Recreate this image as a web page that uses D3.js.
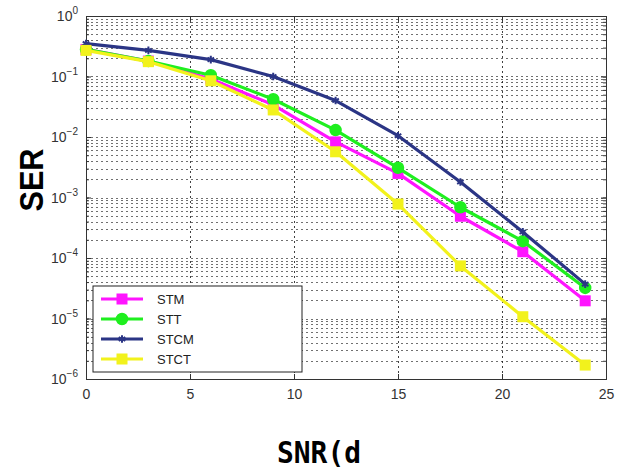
<!DOCTYPE html>
<html>
<head>
<meta charset="utf-8">
<script src="https://cdn.jsdelivr.net/npm/d3@7"></script>
<style>
  body { margin: 0; background: #fff; }
  svg { display: block; font-family: "Liberation Sans", Arial, sans-serif; }
</style>
</head>
<body>
<svg id="chart"></svg>
<script>
// SNR values (dB)
const snr = [0, 3, 6, 9, 12, 15, 18, 21, 24];

// SER per scheme
const stm  = [0.28, 0.18, 0.091, 0.034, 0.0083, 0.0025, 4.9e-4, 1.27e-4, 1.96e-5];
const stt  = [0.28, 0.18, 0.105, 0.042, 0.013, 0.0031, 6.9e-4, 1.9e-4, 3.2e-5];
const stcm = [0.35, 0.27, 0.19, 0.10, 0.040, 0.0105, 0.0018, 2.7e-4, 3.7e-5];
const stct = [0.27, 0.176, 0.085, 0.028, 0.0057, 7.8e-4, 7.4e-5, 1.07e-5, 1.7e-6];

const xTicks = [0, 5, 10, 15, 20, 25];
const yExps = [0, -1, -2, -3, -4, -5, -6];

const series = [
  { name: "STM",  values: stm,  color: "#ff14ff", marker: "square" },
  { name: "STT",  values: stt,  color: "#1fef1f", marker: "circle" },
  { name: "STCM", values: stcm, color: "#2b3585", marker: "star" },
  { name: "STCT", values: stct, color: "#f2f21c", marker: "square" }
];

const width = 627, height = 473;
const margin = { top: 16, right: 21, bottom: 94, left: 86 };

const svg = d3.select("#chart").attr("width", width).attr("height", height);

const x = d3.scaleLinear().domain([0, 25]).range([margin.left, width - margin.right]);
const y = d3.scaleLog().domain([1e-6, 1]).range([height - margin.bottom, margin.top]);

// grid lines (MATLAB style dotted)
const minorY = [];
for (let e = -6; e < 0; e++) for (let m = 1; m <= 9; m++) minorY.push(m * Math.pow(10, e));

const grid = svg.append("g").attr("stroke", "#111").attr("stroke-width", 1).attr("stroke-dasharray", "2,3");
grid.selectAll("line.h").data(minorY.filter(v => v > 1e-6)).enter().append("line")
  .attr("x1", x(0)).attr("x2", x(25))
  .attr("y1", d => Math.round(y(d)) + 0.5).attr("y2", d => Math.round(y(d)) + 0.5)
  .attr("stroke-opacity", 0.6);
grid.selectAll("line.v").data([5, 10, 15, 20]).enter().append("line")
  .attr("x1", d => Math.round(x(d)) + 0.5).attr("x2", d => Math.round(x(d)) + 0.5)
  .attr("y1", y(1)).attr("y2", y(1e-6))
  .attr("stroke-opacity", 0.8);

// axes
const axB = svg.append("g").attr("transform", `translate(0,${y(1e-6)})`)
  .call(d3.axisBottom(x).tickValues(xTicks).tickSize(-5).tickPadding(10).tickFormat(d3.format("d")));
svg.append("g").attr("transform", `translate(0,${y(1)})`)
  .call(d3.axisTop(x).tickValues(xTicks).tickSize(-5).tickFormat(""));
const axL = svg.append("g").attr("transform", `translate(${x(0)},0)`)
  .call(d3.axisLeft(y).tickValues(yExps.map(e => Math.pow(10, e))).tickSize(-5).tickPadding(6).tickFormat(""));
svg.append("g").attr("transform", `translate(${x(25)},0)`)
  .call(d3.axisRight(y).tickValues(yExps.map(e => Math.pow(10, e))).tickSize(-5).tickFormat(""));
// minor y ticks
svg.append("g").attr("transform", `translate(${x(0)},0)`)
  .call(d3.axisLeft(y).tickValues(minorY.filter(v => v > 1e-6 && v < 1)).tickSize(-3).tickFormat(""));
svg.append("g").attr("transform", `translate(${x(25)},0)`)
  .call(d3.axisRight(y).tickValues(minorY.filter(v => v > 1e-6 && v < 1)).tickSize(-3).tickFormat(""));

svg.selectAll(".domain").attr("stroke", "#333");
svg.selectAll(".tick line").attr("stroke", "#333");
axB.selectAll("text").attr("font-size", 14).attr("fill", "#333")
  .attr("font-family", "Liberation Sans, Arial, sans-serif");

// y tick labels 10^k
const yl = axL.selectAll(".tick").append("text")
  .attr("x", -8).attr("dy", "0.35em").attr("text-anchor", "end")
  .attr("fill", "#333").attr("font-size", 14);
yl.each(function(d) {
  const t = d3.select(this);
  const e = Math.round(Math.log10(d));
  t.append("tspan").text("10");
  t.append("tspan").attr("dy", -7).attr("font-size", 10).text(e === 0 ? "0" : "\u2212" + (-e));
});

// lines + markers
const line = d3.line().x((d, i) => x(snr[i])).y(d => y(d));

series.forEach(s => {
  const g = svg.append("g");
  g.append("path").datum(s.values).attr("d", line)
    .attr("fill", "none").attr("stroke", s.color).attr("stroke-width", 3.2)
    .attr("stroke-linejoin", "round");
  const pts = g.selectAll("g.pt").data(s.values).enter().append("g")
    .attr("transform", (d, i) => `translate(${x(snr[i])},${y(d)})`);
  drawMarker(pts, s);
});

function drawMarker(sel, s) {
  if (s.marker === "square") {
    sel.append("rect").attr("x", -5.5).attr("y", -5.5).attr("width", 11).attr("height", 11)
      .attr("fill", s.color);
  } else if (s.marker === "circle") {
    sel.append("circle").attr("r", 5.5).attr("fill", s.color).attr("stroke", s.color).attr("stroke-width", 1.5);
  } else {
    sel.append("path").attr("d", d3.symbol().type(d3.symbolAsterisk).size(40)())
      .attr("fill", "none").attr("stroke", s.color).attr("stroke-width", 2);
  }
}

// legend
const lg = svg.append("g").attr("transform", "translate(93,286)");
lg.append("rect").attr("width", 209).attr("height", 86)
  .attr("fill", "#fff").attr("stroke", "#222").attr("stroke-width", 1);
series.forEach((s, i) => {
  const row = lg.append("g").attr("transform", `translate(0,${13 + i * 20})`);
  row.append("line").attr("x1", 8).attr("x2", 50).attr("stroke", s.color).attr("stroke-width", 3.2);
  const m = row.append("g").attr("transform", "translate(29,0)");
  drawMarker(m, s);
  row.append("text").attr("x", 64).attr("dy", "0.35em").attr("font-size", 13)
    .attr("fill", "#222").text(s.name);
});

// axis titles
svg.append("text").attr("transform", "translate(43,180) rotate(-90)")
  .attr("text-anchor", "middle").attr("font-weight", "bold").attr("font-size", 34)
  .attr("font-family", "Liberation Sans, Arial, sans-serif")
  .attr("textLength", 63).attr("lengthAdjust", "spacingAndGlyphs")
  .text("SER");

svg.append("text").attr("x", 277).attr("y", 463)
  .attr("font-weight", "bold").attr("font-size", 30)
  .attr("font-family", "DejaVu Sans Mono, monospace")
  .attr("textLength", 84).attr("lengthAdjust", "spacingAndGlyphs")
  .text("SNR(d");
</script>
</body>
</html>
